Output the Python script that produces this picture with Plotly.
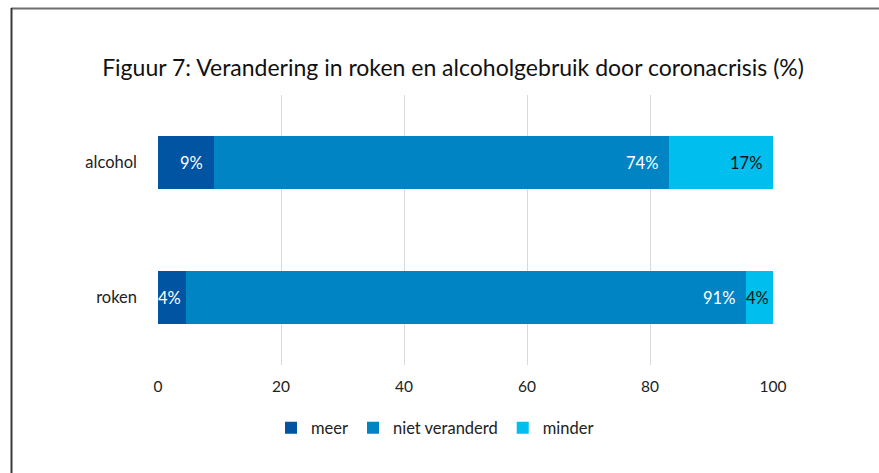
import plotly.graph_objects as go

categories = ["alcohol", "roken"]
series_names = ["meer", "niet veranderd", "minder"]
meer = [9.1, 4.6]
niet_veranderd = [74.0, 91.0]
minder = [16.9, 4.4]
labels_meer = ["9%", "4%"]
labels_niet = ["74%", "91%"]
labels_minder = ["17%", "4%"]
x_ticks = [0, 20, 40, 60, 80, 100]

colors = ["#0054A2", "#0084C4", "#00BEEE"]
label_colors = ["white", "white", "#111111"]

W, H = 879, 473
L, R, T, B = 158, 106, 95, 108
PW = W - L - R
PH = H - T - B
FONT = "Lato"
LABEL_SIZE = 16.5

fig = go.Figure()
series = [meer, niet_veranderd, minder]
labels = [labels_meer, labels_niet, labels_minder]
for name, vals, col in zip(series_names, series, colors):
    fig.add_trace(go.Bar(
        y=categories, x=vals, name=name, orientation="h",
        marker=dict(color=col, line=dict(width=0)),
        hoverinfo="skip",
    ))

# data labels: inside end of each segment
annotations = []
for ci, cat in enumerate(categories):
    cum = 0
    for si in range(3):
        v = series[si][ci]
        cum += v
        txt = labels[si][ci]
        seg_px = v / 100 * PW
        text_w = 0.68 * LABEL_SIZE * len(txt)
        pad = max(0.5, min(9, seg_px - text_w - 3))
        annotations.append(dict(
            x=cum, y=cat, xref="x", yref="y", text=txt, showarrow=False,
            xanchor="right", yanchor="middle", xshift=-pad,
            font=dict(family=FONT, size=LABEL_SIZE, color=label_colors[si]),
        ))

def px_to_paper_x(px):
    return (px - L) / PW

def px_to_paper_y(py):
    return (H - B - py) / PH

shapes = [
    dict(type="line", xref="paper", yref="paper",
         x0=px_to_paper_x(11), x1=px_to_paper_x(880),
         y0=px_to_paper_y(8.5), y1=px_to_paper_y(8.5),
         line=dict(color="#6f6f6f", width=2)),
    dict(type="line", xref="paper", yref="paper",
         x0=px_to_paper_x(11.5), x1=px_to_paper_x(11.5),
         y0=px_to_paper_y(8), y1=px_to_paper_y(480),
         line=dict(color="#3a3a3a", width=2)),
]

fig.update_layout(
    width=W, height=H,
    margin=dict(l=L, r=R, t=T, b=B, pad=0, autoexpand=False),
    barmode="stack", bargap=0.61,
    plot_bgcolor="white", paper_bgcolor="white",
    font=dict(family=FONT, size=15, color="#222222"),
    title=dict(
        text="Figuur 7: Verandering in roken en alcoholgebruik door coronacrisis (%)",
        x=453 / W, xanchor="center", xref="container",
        y=1 - 68 / H, yanchor="middle", yref="container",
        font=dict(family=FONT, size=23, color="#111111"),
    ),
    xaxis=dict(
        range=[0, 100], tickvals=x_ticks, ticktext=[str(t) for t in x_ticks],
        showgrid=True, gridcolor="#d9d9d9", gridwidth=1,
        zeroline=False, showline=False, ticks="",
        ticklabelstandoff=10, fixedrange=True,
        tickfont=dict(family=FONT, size=15.5, color="#222222"),
    ),
    yaxis=dict(
        autorange="reversed", showgrid=False, zeroline=False, showline=False,
        ticks="", ticklabelstandoff=20, fixedrange=True,
        tickfont=dict(family=FONT, size=16.5, color="#222222"),
    ),
    legend=dict(
        orientation="h", x=435 / W, xref="container", xanchor="center",
        y=px_to_paper_y(428), yanchor="middle",
        font=dict(family=FONT, size=16.5, color="#222222"),
        itemwidth=30, traceorder="normal",
    ),
    annotations=annotations,
    shapes=shapes,
)

fig.write_html("out.html", config={"displayModeBar": False},
               post_script="document.body.style.margin='0';")
